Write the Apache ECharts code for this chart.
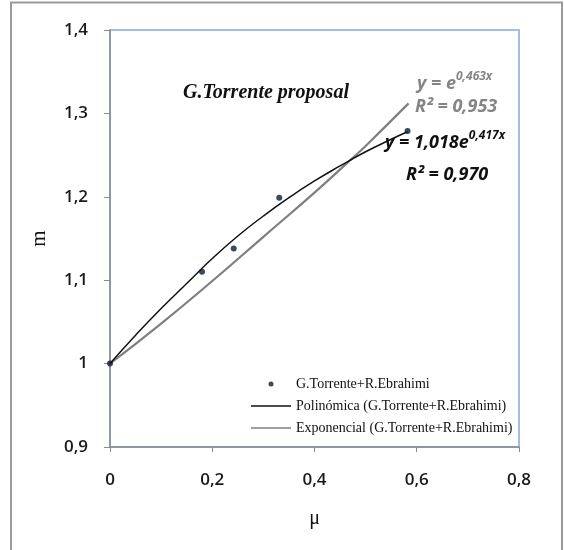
<!DOCTYPE html>
<html>
<head>
<meta charset="utf-8">
<script src="https://cdn.jsdelivr.net/npm/echarts@6/dist/echarts.min.js"></script>
<style>html,body{margin:0;padding:0;background:#fff}#c{width:564px;height:550px}</style>
</head>
<body>
<div id="c"></div>
<script>
// Data
var pointsX = [0, 0.18, 0.242, 0.331, 0.582];
var pointsY = [1.0, 1.11, 1.138, 1.199, 1.279];
var polyX = [0, 0.05, 0.1, 0.15, 0.2, 0.25, 0.3, 0.35, 0.4, 0.45, 0.5, 0.55, 0.582];
var polyY = [1.0, 1.034, 1.066, 1.096, 1.126, 1.153, 1.177, 1.199, 1.219, 1.237, 1.254, 1.269, 1.278];
var expX = [0, 0.1, 0.2, 0.3, 0.4, 0.47, 0.5, 0.584];
var expY = [1.0, 1.048, 1.099, 1.152, 1.205, 1.244, 1.261, 1.312];
var seriesNames = ['G.Torrente+R.Ebrahimi', 'Polinómica (G.Torrente+R.Ebrahimi)', 'Exponencial (G.Torrente+R.Ebrahimi)'];
var xTicks = {min: 0, max: 0.8, interval: 0.2};
var yTicks = {min: 0.9, max: 1.4, interval: 0.1};

function zip(a, b) { return a.map(function (v, i) { return [v, b[i]]; }); }
function fmt(v) { return String(+(+v).toFixed(1)).replace('.', ','); }

var chart = echarts.init(document.getElementById('c'));
var labelFont = {fontFamily: 'Open Sans', fontWeight: 600, fontSize: 17, color: '#1a1a1a'};
var lineIcon = 'path://M0,0H40V1.4H0Z';
function richEq(base, sup, color) {
  return {
    text: '{b|' + base + '}{s|' + sup + '}', verticalAlign: 'middle',
    rich: {
      b: {fontFamily: 'Open Sans', fontStyle: 'italic', fontWeight: 'bold', fontSize: 18, fill: color, lineHeight: 22, verticalAlign: 'bottom'},
      s: {fontFamily: 'Open Sans', fontStyle: 'italic', fontWeight: 'bold', fontSize: 12, fill: color, lineHeight: 22, verticalAlign: 'top'}
    }
  };
}
chart.setOption({
  animation: false,
  grid: {left: 110, top: 30, width: 409, height: 417, show: true, borderColor: '#86a9d6', borderWidth: 1.5, backgroundColor: '#fff'},
  xAxis: {
    type: 'value', min: xTicks.min, max: xTicks.max, interval: xTicks.interval,
    name: 'μ', nameLocation: 'middle', nameGap: 62,
    nameTextStyle: {fontFamily: 'Liberation Serif', fontSize: 20, color: '#111'},
    axisLine: {show: true, lineStyle: {color: '#8a8a8a', width: 1.5}},
    axisTick: {show: true, length: 5, lineStyle: {color: '#8a8a8a'}},
    splitLine: {show: false},
    axisLabel: Object.assign({margin: 25, formatter: fmt}, labelFont)
  },
  yAxis: {
    type: 'value', min: yTicks.min, max: yTicks.max, interval: yTicks.interval,
    name: 'm', nameLocation: 'middle', nameGap: 60, nameRotate: 90,
    nameTextStyle: {fontFamily: 'Liberation Serif', fontSize: 21, color: '#111'},
    axisLine: {show: true, lineStyle: {color: '#8a8a8a', width: 1.5}},
    axisTick: {show: true, length: 6, lineStyle: {color: '#8a8a8a'}},
    splitLine: {show: false},
    axisLabel: Object.assign({margin: 22, formatter: fmt}, labelFont)
  },
  legend: {
    orient: 'vertical', left: 246, top: 372, itemGap: 8,
    itemWidth: 40, itemHeight: 5,
    textStyle: {fontFamily: 'Liberation Serif', fontSize: 14, color: '#111'},
    data: [
      {name: seriesNames[0], icon: 'circle'},
      {name: seriesNames[1], icon: lineIcon},
      {name: seriesNames[2], icon: lineIcon}
    ]
  },
  series: [
    {
      name: seriesNames[2], type: 'line', data: zip(expX, expY), smooth: true,
      showSymbol: false, symbol: 'none', lineStyle: {color: '#7f7f7f', width: 2.2}, itemStyle: {color: '#7f7f7f'}, z: 2
    },
    {
      name: seriesNames[1], type: 'line', data: zip(polyX, polyY), smooth: true,
      showSymbol: false, symbol: 'none', lineStyle: {color: '#111', width: 1.5}, itemStyle: {color: '#111'}, z: 3
    },
    {
      name: seriesNames[0], type: 'scatter', data: zip(pointsX, pointsY),
      symbolSize: 6, itemStyle: {color: '#0d1b33'}, z: 4
    }
  ],
  graphic: [
    {type: 'rect', shape: {x: 11, y: 2.5, width: 551, height: 600}, style: {fill: 'none', stroke: '#9a9a9a', lineWidth: 2}, silent: true},
    {type: 'text', x: 183, y: 93, style: {text: 'G.Torrente proposal', fontFamily: 'Liberation Serif', fontStyle: 'italic', fontWeight: 'bold', fontSize: 20, fill: '#111', verticalAlign: 'middle'}},
    {type: 'text', x: 417, y: 82, style: richEq('y = e', '0,463x', '#858585')},
    {type: 'text', x: 415, y: 107, style: {text: 'R² = 0,953', fontFamily: 'Open Sans', fontStyle: 'italic', fontWeight: 'bold', fontSize: 18, fill: '#858585', verticalAlign: 'middle'}},
    {type: 'text', x: 385, y: 141, style: richEq('y = 1,018e', '0,417x', '#111')},
    {type: 'text', x: 406, y: 175, style: {text: 'R² = 0,970', fontFamily: 'Open Sans', fontStyle: 'italic', fontWeight: 'bold', fontSize: 18, fill: '#111', verticalAlign: 'middle'}}
  ]
});
</script>
</body>
</html>
